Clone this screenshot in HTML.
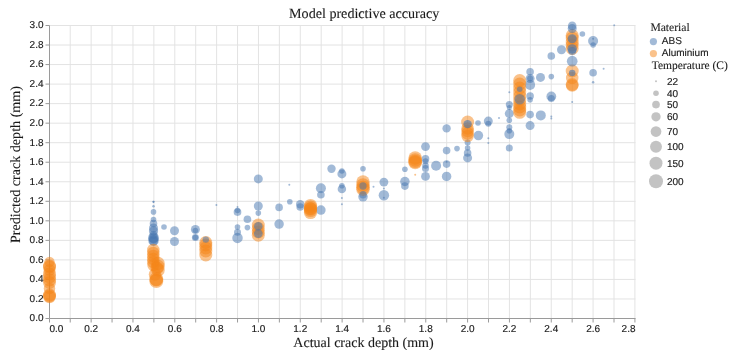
<!DOCTYPE html>
<html><head><meta charset="utf-8"><style>
html,body{margin:0;padding:0;background:#fff;}
svg{display:block;filter:blur(0.4px);}
text{text-rendering:geometricPrecision;}
.lb{font-family:"Liberation Sans",sans-serif;font-size:10px;fill:#1a1a1a;stroke:#1a1a1a;stroke-width:0.15px;}
.tt{font-family:"Liberation Serif",serif;fill:#1a1a1a;stroke:#1a1a1a;stroke-width:0.1px;}
</style></head><body>
<svg width="736" height="356" viewBox="0 0 736 356">
<path d="M70.22,25.5V318.5M91.13,25.5V318.5M112.05,25.5V318.5M132.96,25.5V318.5M153.88,25.5V318.5M174.79,25.5V318.5M195.70,25.5V318.5M216.62,25.5V318.5M237.54,25.5V318.5M258.45,25.5V318.5M279.37,25.5V318.5M300.28,25.5V318.5M321.20,25.5V318.5M342.11,25.5V318.5M363.03,25.5V318.5M383.94,25.5V318.5M404.86,25.5V318.5M425.77,25.5V318.5M446.69,25.5V318.5M467.60,25.5V318.5M488.52,25.5V318.5M509.43,25.5V318.5M530.34,25.5V318.5M551.26,25.5V318.5M572.17,25.5V318.5M593.09,25.5V318.5M614.00,25.5V318.5M634.92,25.5V318.5M49.5,318.50H635.5M49.5,298.97H635.5M49.5,279.43H635.5M49.5,259.90H635.5M49.5,240.37H635.5M49.5,220.83H635.5M49.5,201.30H635.5M49.5,181.77H635.5M49.5,162.23H635.5M49.5,142.70H635.5M49.5,123.17H635.5M49.5,103.63H635.5M49.5,84.10H635.5M49.5,64.57H635.5M49.5,45.03H635.5M49.5,25.50H635.5" stroke="#e3e3e3" stroke-width="1" fill="none"/>
<path d="M49.50,318.5V322.5M70.22,318.5V322.5M91.13,318.5V322.5M112.05,318.5V322.5M132.96,318.5V322.5M153.88,318.5V322.5M174.79,318.5V322.5M195.70,318.5V322.5M216.62,318.5V322.5M237.54,318.5V322.5M258.45,318.5V322.5M279.37,318.5V322.5M300.28,318.5V322.5M321.20,318.5V322.5M342.11,318.5V322.5M363.03,318.5V322.5M383.94,318.5V322.5M404.86,318.5V322.5M425.77,318.5V322.5M446.69,318.5V322.5M467.60,318.5V322.5M488.52,318.5V322.5M509.43,318.5V322.5M530.34,318.5V322.5M551.26,318.5V322.5M572.17,318.5V322.5M593.09,318.5V322.5M614.00,318.5V322.5M634.92,318.5V322.5M45.5,318.50H49.5M45.5,298.97H49.5M45.5,279.43H49.5M45.5,259.90H49.5M45.5,240.37H49.5M45.5,220.83H49.5M45.5,201.30H49.5M45.5,181.77H49.5M45.5,162.23H49.5M45.5,142.70H49.5M45.5,123.17H49.5M45.5,103.63H49.5M45.5,84.10H49.5M45.5,64.57H49.5M45.5,45.03H49.5M45.5,25.50H49.5" stroke="#9a9a9a" stroke-width="1" fill="none"/>
<path d="M49.5,318.5H635.5M49.5,25.5V318.5" stroke="#9a9a9a" stroke-width="1" fill="none"/>
<circle cx="153.5" cy="201.8" r="1.10" fill="#4676b0" fill-opacity="0.5"/>
<circle cx="153.5" cy="201.8" r="1.10" fill="#4676b0" fill-opacity="0.5"/>
<circle cx="153.5" cy="206.2" r="1.25" fill="#4676b0" fill-opacity="0.5"/>
<circle cx="153.5" cy="211.9" r="2.80" fill="#4676b0" fill-opacity="0.5"/>
<circle cx="153.5" cy="219.5" r="2.80" fill="#4676b0" fill-opacity="0.5"/>
<circle cx="153.5" cy="223.5" r="3.80" fill="#4676b0" fill-opacity="0.5"/>
<circle cx="153.5" cy="228" r="4.50" fill="#4676b0" fill-opacity="0.5"/>
<circle cx="153.5" cy="231" r="4.65" fill="#4676b0" fill-opacity="0.5"/>
<circle cx="153.5" cy="235" r="4.00" fill="#4676b0" fill-opacity="0.5"/>
<circle cx="153.5" cy="237.6" r="5.30" fill="#4676b0" fill-opacity="0.5"/>
<circle cx="153.5" cy="240.6" r="5.30" fill="#4676b0" fill-opacity="0.5"/>
<circle cx="153.5" cy="238.5" r="5.00" fill="#4676b0" fill-opacity="0.5"/>
<circle cx="153.5" cy="241" r="4.50" fill="#4676b0" fill-opacity="0.5"/>
<circle cx="164" cy="227" r="2.80" fill="#4676b0" fill-opacity="0.5"/>
<circle cx="174.5" cy="230.8" r="4.50" fill="#4676b0" fill-opacity="0.5"/>
<circle cx="174.5" cy="241.5" r="4.50" fill="#4676b0" fill-opacity="0.5"/>
<circle cx="195.4" cy="229.5" r="4.50" fill="#4676b0" fill-opacity="0.5"/>
<circle cx="195.4" cy="230.5" r="2.80" fill="#4676b0" fill-opacity="0.5"/>
<circle cx="195.4" cy="237.5" r="3.50" fill="#4676b0" fill-opacity="0.5"/>
<circle cx="195.4" cy="237.5" r="2.80" fill="#4676b0" fill-opacity="0.5"/>
<circle cx="216.4" cy="205" r="1.00" fill="#4676b0" fill-opacity="0.5"/>
<circle cx="237.5" cy="207" r="1.00" fill="#4676b0" fill-opacity="0.5"/>
<circle cx="237.5" cy="210.5" r="2.80" fill="#4676b0" fill-opacity="0.5"/>
<circle cx="237.5" cy="212.1" r="3.85" fill="#4676b0" fill-opacity="0.5"/>
<circle cx="237.5" cy="227" r="2.80" fill="#4676b0" fill-opacity="0.5"/>
<circle cx="237.5" cy="232.2" r="3.50" fill="#4676b0" fill-opacity="0.5"/>
<circle cx="237.5" cy="237.9" r="5.25" fill="#4676b0" fill-opacity="0.5"/>
<circle cx="247.4" cy="219.3" r="3.80" fill="#4676b0" fill-opacity="0.5"/>
<circle cx="247.4" cy="227.6" r="2.80" fill="#4676b0" fill-opacity="0.5"/>
<circle cx="258.3" cy="178.9" r="4.50" fill="#4676b0" fill-opacity="0.5"/>
<circle cx="258.3" cy="206" r="4.50" fill="#4676b0" fill-opacity="0.5"/>
<circle cx="258.3" cy="213.1" r="2.80" fill="#4676b0" fill-opacity="0.5"/>
<circle cx="279.1" cy="207.4" r="3.80" fill="#4676b0" fill-opacity="0.5"/>
<circle cx="279.1" cy="224.1" r="4.75" fill="#4676b0" fill-opacity="0.5"/>
<circle cx="289.3" cy="184.8" r="1.00" fill="#4676b0" fill-opacity="0.5"/>
<circle cx="289.8" cy="201.8" r="2.80" fill="#4676b0" fill-opacity="0.5"/>
<circle cx="300.2" cy="204.2" r="4.20" fill="#4676b0" fill-opacity="0.5"/>
<circle cx="300.2" cy="207" r="3.80" fill="#4676b0" fill-opacity="0.5"/>
<circle cx="320.9" cy="188.3" r="5.00" fill="#4676b0" fill-opacity="0.5"/>
<circle cx="320.9" cy="194.7" r="3.80" fill="#4676b0" fill-opacity="0.5"/>
<circle cx="320.9" cy="210.1" r="4.75" fill="#4676b0" fill-opacity="0.5"/>
<circle cx="331.5" cy="168.8" r="4.20" fill="#4676b0" fill-opacity="0.5"/>
<circle cx="341.9" cy="171" r="2.80" fill="#4676b0" fill-opacity="0.5"/>
<circle cx="341.9" cy="173.9" r="4.50" fill="#4676b0" fill-opacity="0.5"/>
<circle cx="341.9" cy="185.7" r="2.80" fill="#4676b0" fill-opacity="0.5"/>
<circle cx="341.9" cy="189" r="4.25" fill="#4676b0" fill-opacity="0.5"/>
<circle cx="341.9" cy="198" r="1.00" fill="#4676b0" fill-opacity="0.5"/>
<circle cx="341.9" cy="204.2" r="1.00" fill="#4676b0" fill-opacity="0.5"/>
<circle cx="363" cy="168.8" r="2.80" fill="#4676b0" fill-opacity="0.5"/>
<circle cx="363" cy="196.8" r="4.75" fill="#4676b0" fill-opacity="0.5"/>
<circle cx="373.5" cy="186.8" r="1.00" fill="#4676b0" fill-opacity="0.5"/>
<circle cx="383.9" cy="182.1" r="4.45" fill="#4676b0" fill-opacity="0.5"/>
<circle cx="383.9" cy="188.6" r="1.00" fill="#4676b0" fill-opacity="0.5"/>
<circle cx="383.9" cy="195.3" r="5.25" fill="#4676b0" fill-opacity="0.5"/>
<circle cx="383.9" cy="197.8" r="1.00" fill="#4676b0" fill-opacity="0.5"/>
<circle cx="404.9" cy="169.3" r="2.80" fill="#4676b0" fill-opacity="0.5"/>
<circle cx="404.9" cy="181.5" r="4.75" fill="#4676b0" fill-opacity="0.5"/>
<circle cx="404.9" cy="186.1" r="3.80" fill="#4676b0" fill-opacity="0.5"/>
<circle cx="425.5" cy="146.6" r="4.40" fill="#4676b0" fill-opacity="0.5"/>
<circle cx="425.5" cy="158.7" r="3.80" fill="#4676b0" fill-opacity="0.5"/>
<circle cx="425.5" cy="161.2" r="3.00" fill="#4676b0" fill-opacity="0.5"/>
<circle cx="425.5" cy="165.5" r="3.25" fill="#4676b0" fill-opacity="0.5"/>
<circle cx="425.5" cy="168.5" r="3.50" fill="#4676b0" fill-opacity="0.5"/>
<circle cx="425.5" cy="176.4" r="4.40" fill="#4676b0" fill-opacity="0.5"/>
<circle cx="436.1" cy="165.8" r="5.00" fill="#4676b0" fill-opacity="0.5"/>
<circle cx="446.6" cy="128.4" r="4.20" fill="#4676b0" fill-opacity="0.5"/>
<circle cx="446.6" cy="150.6" r="3.80" fill="#4676b0" fill-opacity="0.5"/>
<circle cx="446.6" cy="161.7" r="1.00" fill="#4676b0" fill-opacity="0.5"/>
<circle cx="446.6" cy="164.1" r="3.80" fill="#4676b0" fill-opacity="0.5"/>
<circle cx="446.6" cy="176.4" r="4.75" fill="#4676b0" fill-opacity="0.5"/>
<circle cx="457" cy="148.6" r="2.80" fill="#4676b0" fill-opacity="0.5"/>
<circle cx="467.6" cy="142.4" r="3.00" fill="#4676b0" fill-opacity="0.5"/>
<circle cx="467.6" cy="148" r="2.80" fill="#4676b0" fill-opacity="0.5"/>
<circle cx="467.6" cy="153" r="3.80" fill="#4676b0" fill-opacity="0.5"/>
<circle cx="467.6" cy="157.9" r="4.50" fill="#4676b0" fill-opacity="0.5"/>
<circle cx="478" cy="123" r="2.80" fill="#4676b0" fill-opacity="0.5"/>
<circle cx="478.4" cy="135.6" r="4.75" fill="#4676b0" fill-opacity="0.5"/>
<circle cx="488.3" cy="121.1" r="4.50" fill="#4676b0" fill-opacity="0.5"/>
<circle cx="488.3" cy="123.8" r="3.00" fill="#4676b0" fill-opacity="0.5"/>
<circle cx="488.3" cy="138.2" r="1.00" fill="#4676b0" fill-opacity="0.5"/>
<circle cx="488.3" cy="143.1" r="1.00" fill="#4676b0" fill-opacity="0.5"/>
<circle cx="499" cy="117.9" r="1.00" fill="#4676b0" fill-opacity="0.5"/>
<circle cx="509.3" cy="92.2" r="1.00" fill="#4676b0" fill-opacity="0.5"/>
<circle cx="509.3" cy="104.5" r="3.50" fill="#4676b0" fill-opacity="0.5"/>
<circle cx="509.3" cy="107.4" r="2.50" fill="#4676b0" fill-opacity="0.5"/>
<circle cx="509.3" cy="113.6" r="4.50" fill="#4676b0" fill-opacity="0.5"/>
<circle cx="509.3" cy="120.3" r="2.80" fill="#4676b0" fill-opacity="0.5"/>
<circle cx="509.3" cy="127.2" r="3.00" fill="#4676b0" fill-opacity="0.5"/>
<circle cx="509.3" cy="130.8" r="2.80" fill="#4676b0" fill-opacity="0.5"/>
<circle cx="509.3" cy="134.1" r="5.00" fill="#4676b0" fill-opacity="0.5"/>
<circle cx="509.3" cy="147.9" r="3.50" fill="#4676b0" fill-opacity="0.5"/>
<circle cx="530.1" cy="71.8" r="3.80" fill="#4676b0" fill-opacity="0.5"/>
<circle cx="530.1" cy="78.6" r="4.50" fill="#4676b0" fill-opacity="0.5"/>
<circle cx="530.1" cy="78.6" r="3.00" fill="#4676b0" fill-opacity="0.5"/>
<circle cx="530.1" cy="84.9" r="5.00" fill="#4676b0" fill-opacity="0.5"/>
<circle cx="530.1" cy="96" r="3.80" fill="#4676b0" fill-opacity="0.5"/>
<circle cx="530.1" cy="99.8" r="2.80" fill="#4676b0" fill-opacity="0.5"/>
<circle cx="530.1" cy="114.6" r="3.80" fill="#4676b0" fill-opacity="0.5"/>
<circle cx="530.1" cy="125.6" r="4.50" fill="#4676b0" fill-opacity="0.5"/>
<circle cx="540.5" cy="77.4" r="4.50" fill="#4676b0" fill-opacity="0.5"/>
<circle cx="540.8" cy="115.4" r="5.00" fill="#4676b0" fill-opacity="0.5"/>
<circle cx="551.3" cy="56" r="3.80" fill="#4676b0" fill-opacity="0.5"/>
<circle cx="551.3" cy="76.6" r="2.80" fill="#4676b0" fill-opacity="0.5"/>
<circle cx="551.3" cy="96.4" r="4.90" fill="#4676b0" fill-opacity="0.5"/>
<circle cx="551.3" cy="98.4" r="3.50" fill="#4676b0" fill-opacity="0.5"/>
<circle cx="551.3" cy="116.6" r="1.00" fill="#4676b0" fill-opacity="0.5"/>
<circle cx="551.3" cy="118.5" r="1.00" fill="#4676b0" fill-opacity="0.5"/>
<circle cx="561.5" cy="49.7" r="4.50" fill="#4676b0" fill-opacity="0.5"/>
<circle cx="572.2" cy="101.9" r="1.00" fill="#4676b0" fill-opacity="0.5"/>
<circle cx="582.4" cy="34" r="2.80" fill="#4676b0" fill-opacity="0.5"/>
<circle cx="593.1" cy="38.8" r="1.00" fill="#4676b0" fill-opacity="0.5"/>
<circle cx="593.1" cy="41" r="5.00" fill="#4676b0" fill-opacity="0.5"/>
<circle cx="593.1" cy="45" r="2.80" fill="#4676b0" fill-opacity="0.5"/>
<circle cx="593.1" cy="72.7" r="3.80" fill="#4676b0" fill-opacity="0.5"/>
<circle cx="593.1" cy="82.3" r="1.25" fill="#4676b0" fill-opacity="0.5"/>
<circle cx="603.6" cy="68.7" r="1.00" fill="#4676b0" fill-opacity="0.5"/>
<circle cx="614.2" cy="25.3" r="1.00" fill="#4676b0" fill-opacity="0.5"/>
<circle cx="49.5" cy="262" r="5.15" fill="#f58518" fill-opacity="0.5"/>
<circle cx="49.5" cy="266" r="6.50" fill="#f58518" fill-opacity="0.5"/>
<circle cx="49.5" cy="267" r="6.50" fill="#f58518" fill-opacity="0.5"/>
<circle cx="49.5" cy="270" r="6.00" fill="#f58518" fill-opacity="0.5"/>
<circle cx="49.5" cy="274" r="6.50" fill="#f58518" fill-opacity="0.5"/>
<circle cx="49.5" cy="277" r="6.50" fill="#f58518" fill-opacity="0.5"/>
<circle cx="49.5" cy="280" r="6.50" fill="#f58518" fill-opacity="0.5"/>
<circle cx="49.5" cy="282.5" r="6.50" fill="#f58518" fill-opacity="0.5"/>
<circle cx="49.5" cy="288.5" r="5.75" fill="#f58518" fill-opacity="0.5"/>
<circle cx="49.5" cy="295" r="6.50" fill="#f58518" fill-opacity="0.5"/>
<circle cx="49.5" cy="297" r="6.25" fill="#f58518" fill-opacity="0.5"/>
<circle cx="49.5" cy="296" r="6.50" fill="#f58518" fill-opacity="0.5"/>
<circle cx="153.3" cy="250" r="6.25" fill="#f58518" fill-opacity="0.5"/>
<circle cx="153.3" cy="253" r="6.25" fill="#f58518" fill-opacity="0.5"/>
<circle cx="153.3" cy="256" r="6.25" fill="#f58518" fill-opacity="0.5"/>
<circle cx="153.3" cy="259" r="6.25" fill="#f58518" fill-opacity="0.5"/>
<circle cx="153.3" cy="262" r="6.25" fill="#f58518" fill-opacity="0.5"/>
<circle cx="153.5" cy="265" r="6.25" fill="#f58518" fill-opacity="0.5"/>
<circle cx="158" cy="263.5" r="6.75" fill="#f58518" fill-opacity="0.5"/>
<circle cx="158" cy="266.5" r="6.75" fill="#f58518" fill-opacity="0.5"/>
<circle cx="158" cy="270" r="6.75" fill="#f58518" fill-opacity="0.5"/>
<circle cx="157" cy="268" r="6.50" fill="#f58518" fill-opacity="0.5"/>
<circle cx="155" cy="274.5" r="6.25" fill="#f58518" fill-opacity="0.5"/>
<circle cx="156.3" cy="279" r="7.00" fill="#f58518" fill-opacity="0.5"/>
<circle cx="156.3" cy="281" r="7.00" fill="#f58518" fill-opacity="0.5"/>
<circle cx="156.3" cy="280" r="6.50" fill="#f58518" fill-opacity="0.5"/>
<circle cx="205.8" cy="242.5" r="6.50" fill="#f58518" fill-opacity="0.5"/>
<circle cx="205.8" cy="245" r="6.50" fill="#f58518" fill-opacity="0.5"/>
<circle cx="205.8" cy="248" r="6.50" fill="#f58518" fill-opacity="0.5"/>
<circle cx="205.8" cy="251" r="6.50" fill="#f58518" fill-opacity="0.5"/>
<circle cx="205.8" cy="255" r="6.50" fill="#f58518" fill-opacity="0.5"/>
<circle cx="258.3" cy="225" r="6.50" fill="#f58518" fill-opacity="0.5"/>
<circle cx="258.3" cy="228.5" r="6.50" fill="#f58518" fill-opacity="0.5"/>
<circle cx="258.3" cy="232" r="6.50" fill="#f58518" fill-opacity="0.5"/>
<circle cx="258.3" cy="235.2" r="6.50" fill="#f58518" fill-opacity="0.5"/>
<circle cx="310.5" cy="205.5" r="6.60" fill="#f58518" fill-opacity="0.5"/>
<circle cx="310.5" cy="207" r="6.60" fill="#f58518" fill-opacity="0.5"/>
<circle cx="310.5" cy="209" r="6.60" fill="#f58518" fill-opacity="0.5"/>
<circle cx="310.5" cy="210.5" r="6.60" fill="#f58518" fill-opacity="0.5"/>
<circle cx="310.5" cy="212.5" r="6.60" fill="#f58518" fill-opacity="0.5"/>
<circle cx="310.5" cy="208.5" r="6.50" fill="#f58518" fill-opacity="0.5"/>
<circle cx="363" cy="181.9" r="6.75" fill="#f58518" fill-opacity="0.5"/>
<circle cx="363" cy="185" r="6.75" fill="#f58518" fill-opacity="0.5"/>
<circle cx="363" cy="187.5" r="6.75" fill="#f58518" fill-opacity="0.5"/>
<circle cx="363" cy="189.3" r="6.75" fill="#f58518" fill-opacity="0.5"/>
<circle cx="415.2" cy="158" r="6.85" fill="#f58518" fill-opacity="0.5"/>
<circle cx="415.2" cy="160" r="6.85" fill="#f58518" fill-opacity="0.5"/>
<circle cx="415.2" cy="161.5" r="6.85" fill="#f58518" fill-opacity="0.5"/>
<circle cx="415.2" cy="162.5" r="6.85" fill="#f58518" fill-opacity="0.5"/>
<circle cx="415.2" cy="174.8" r="1.00" fill="#f58518" fill-opacity="0.5"/>
<circle cx="467.6" cy="122" r="6.50" fill="#f58518" fill-opacity="0.5"/>
<circle cx="467.6" cy="128.5" r="6.25" fill="#f58518" fill-opacity="0.5"/>
<circle cx="467.6" cy="131" r="6.25" fill="#f58518" fill-opacity="0.5"/>
<circle cx="467.6" cy="133.5" r="6.25" fill="#f58518" fill-opacity="0.5"/>
<circle cx="467.6" cy="136" r="6.25" fill="#f58518" fill-opacity="0.5"/>
<circle cx="519.7" cy="80.5" r="6.50" fill="#f58518" fill-opacity="0.5"/>
<circle cx="519.7" cy="84" r="6.50" fill="#f58518" fill-opacity="0.5"/>
<circle cx="519.7" cy="88" r="6.50" fill="#f58518" fill-opacity="0.5"/>
<circle cx="519.7" cy="92" r="6.50" fill="#f58518" fill-opacity="0.5"/>
<circle cx="519.7" cy="96" r="6.50" fill="#f58518" fill-opacity="0.5"/>
<circle cx="519.7" cy="100" r="6.50" fill="#f58518" fill-opacity="0.5"/>
<circle cx="519.7" cy="104" r="6.50" fill="#f58518" fill-opacity="0.5"/>
<circle cx="519.7" cy="107" r="6.50" fill="#f58518" fill-opacity="0.5"/>
<circle cx="519.7" cy="110" r="6.50" fill="#f58518" fill-opacity="0.5"/>
<circle cx="519.7" cy="112.3" r="6.50" fill="#f58518" fill-opacity="0.5"/>
<circle cx="572.2" cy="35.5" r="6.50" fill="#f58518" fill-opacity="0.5"/>
<circle cx="572.2" cy="38" r="6.50" fill="#f58518" fill-opacity="0.5"/>
<circle cx="572.2" cy="42" r="6.50" fill="#f58518" fill-opacity="0.5"/>
<circle cx="572.2" cy="45" r="6.50" fill="#f58518" fill-opacity="0.5"/>
<circle cx="572.2" cy="48.5" r="6.50" fill="#f58518" fill-opacity="0.5"/>
<circle cx="572.2" cy="71" r="6.50" fill="#f58518" fill-opacity="0.5"/>
<circle cx="572.2" cy="78" r="6.25" fill="#f58518" fill-opacity="0.5"/>
<circle cx="572.2" cy="84.5" r="6.50" fill="#f58518" fill-opacity="0.5"/>
<circle cx="572.2" cy="85.5" r="6.25" fill="#f58518" fill-opacity="0.5"/>
<circle cx="205.8" cy="239.6" r="3.20" fill="#4676b0" fill-opacity="0.5"/>
<circle cx="258.3" cy="226.2" r="4.30" fill="#4676b0" fill-opacity="0.55"/>
<circle cx="258.3" cy="233.6" r="4.40" fill="#4676b0" fill-opacity="0.55"/>
<circle cx="363" cy="186" r="3.65" fill="#4676b0" fill-opacity="0.5"/>
<circle cx="363" cy="194.8" r="3.75" fill="#4676b0" fill-opacity="0.5"/>
<circle cx="467.6" cy="124.1" r="4.20" fill="#4676b0" fill-opacity="0.6"/>
<circle cx="519.7" cy="89.2" r="2.80" fill="#4676b0" fill-opacity="0.5"/>
<circle cx="519.7" cy="99.2" r="5.25" fill="#4676b0" fill-opacity="0.5"/>
<circle cx="572.2" cy="25.9" r="4.30" fill="#4676b0" fill-opacity="0.5"/>
<circle cx="572.2" cy="28.6" r="4.50" fill="#4676b0" fill-opacity="0.5"/>
<circle cx="572.2" cy="38.7" r="4.50" fill="#4676b0" fill-opacity="0.6"/>
<circle cx="572.2" cy="48.9" r="4.75" fill="#4676b0" fill-opacity="0.6"/>
<circle cx="572.2" cy="51" r="4.00" fill="#4676b0" fill-opacity="0.5"/>
<circle cx="572.2" cy="61.2" r="5.35" fill="#4676b0" fill-opacity="0.5"/>
<circle cx="572.2" cy="73" r="3.25" fill="#4676b0" fill-opacity="0.6"/>
<text x="49.50" y="332.1" text-anchor="start" class="lb">0.0</text>
<text x="91.13" y="332.1" text-anchor="middle" class="lb">0.2</text>
<text x="132.96" y="332.1" text-anchor="middle" class="lb">0.4</text>
<text x="174.79" y="332.1" text-anchor="middle" class="lb">0.6</text>
<text x="216.62" y="332.1" text-anchor="middle" class="lb">0.8</text>
<text x="258.45" y="332.1" text-anchor="middle" class="lb">1.0</text>
<text x="300.28" y="332.1" text-anchor="middle" class="lb">1.2</text>
<text x="342.11" y="332.1" text-anchor="middle" class="lb">1.4</text>
<text x="383.94" y="332.1" text-anchor="middle" class="lb">1.6</text>
<text x="425.77" y="332.1" text-anchor="middle" class="lb">1.8</text>
<text x="467.60" y="332.1" text-anchor="middle" class="lb">2.0</text>
<text x="509.43" y="332.1" text-anchor="middle" class="lb">2.2</text>
<text x="551.26" y="332.1" text-anchor="middle" class="lb">2.4</text>
<text x="593.09" y="332.1" text-anchor="middle" class="lb">2.6</text>
<text x="635.50" y="332.1" text-anchor="end" class="lb">2.8</text>
<text x="43.5" y="321.30" text-anchor="end" class="lb">0.0</text>
<text x="43.5" y="301.77" text-anchor="end" class="lb">0.2</text>
<text x="43.5" y="282.23" text-anchor="end" class="lb">0.4</text>
<text x="43.5" y="262.70" text-anchor="end" class="lb">0.6</text>
<text x="43.5" y="243.17" text-anchor="end" class="lb">0.8</text>
<text x="43.5" y="223.63" text-anchor="end" class="lb">1.0</text>
<text x="43.5" y="204.10" text-anchor="end" class="lb">1.2</text>
<text x="43.5" y="184.57" text-anchor="end" class="lb">1.4</text>
<text x="43.5" y="165.03" text-anchor="end" class="lb">1.6</text>
<text x="43.5" y="145.50" text-anchor="end" class="lb">1.8</text>
<text x="43.5" y="125.97" text-anchor="end" class="lb">2.0</text>
<text x="43.5" y="106.43" text-anchor="end" class="lb">2.2</text>
<text x="43.5" y="86.90" text-anchor="end" class="lb">2.4</text>
<text x="43.5" y="67.37" text-anchor="end" class="lb">2.6</text>
<text x="43.5" y="47.83" text-anchor="end" class="lb">2.8</text>
<text x="43.5" y="28.30" text-anchor="end" class="lb">3.0</text>
<text x="364.2" y="17.7" text-anchor="middle" class="tt" font-size="14.1">Model predictive accuracy</text>
<text x="363.5" y="346.7" text-anchor="middle" class="tt" font-size="14">Actual crack depth (mm)</text>
<text transform="translate(19.6,164.5) rotate(-90)" text-anchor="middle" class="tt" font-size="14.1">Predicted crack depth (mm)</text>
<text x="650.4" y="31" class="tt" font-size="11.6">Material</text>
<circle cx="653.4" cy="41.6" r="3.6" fill="#4676b0" fill-opacity="0.5"/>
<text x="661.8" y="43.9" class="lb">ABS</text>
<circle cx="653.4" cy="53.6" r="3.6" fill="#f58518" fill-opacity="0.5"/>
<text x="661.8" y="55.9" class="lb">Aluminium</text>
<text x="651.7" y="69.4" class="tt" font-size="11.5">Temperature (C)</text>
<circle cx="656" cy="81.3" r="1.00" fill="#888" fill-opacity="0.5"/>
<text x="667" y="84.90" class="lb">22</text>
<circle cx="656" cy="93.2" r="2.80" fill="#888" fill-opacity="0.5"/>
<text x="667" y="96.80" class="lb">40</text>
<circle cx="656" cy="104.6" r="3.84" fill="#888" fill-opacity="0.5"/>
<text x="667" y="108.20" class="lb">50</text>
<circle cx="656" cy="116.8" r="4.65" fill="#888" fill-opacity="0.5"/>
<text x="667" y="120.40" class="lb">60</text>
<circle cx="656" cy="131.6" r="5.33" fill="#888" fill-opacity="0.5"/>
<text x="667" y="135.20" class="lb">70</text>
<circle cx="656" cy="146.8" r="5.94" fill="#888" fill-opacity="0.5"/>
<text x="667" y="150.40" class="lb">100</text>
<circle cx="656" cy="163.2" r="6.49" fill="#888" fill-opacity="0.5"/>
<text x="667" y="166.80" class="lb">150</text>
<circle cx="656" cy="181.3" r="7.00" fill="#888" fill-opacity="0.5"/>
<text x="667" y="184.90" class="lb">200</text>
</svg></body></html>
